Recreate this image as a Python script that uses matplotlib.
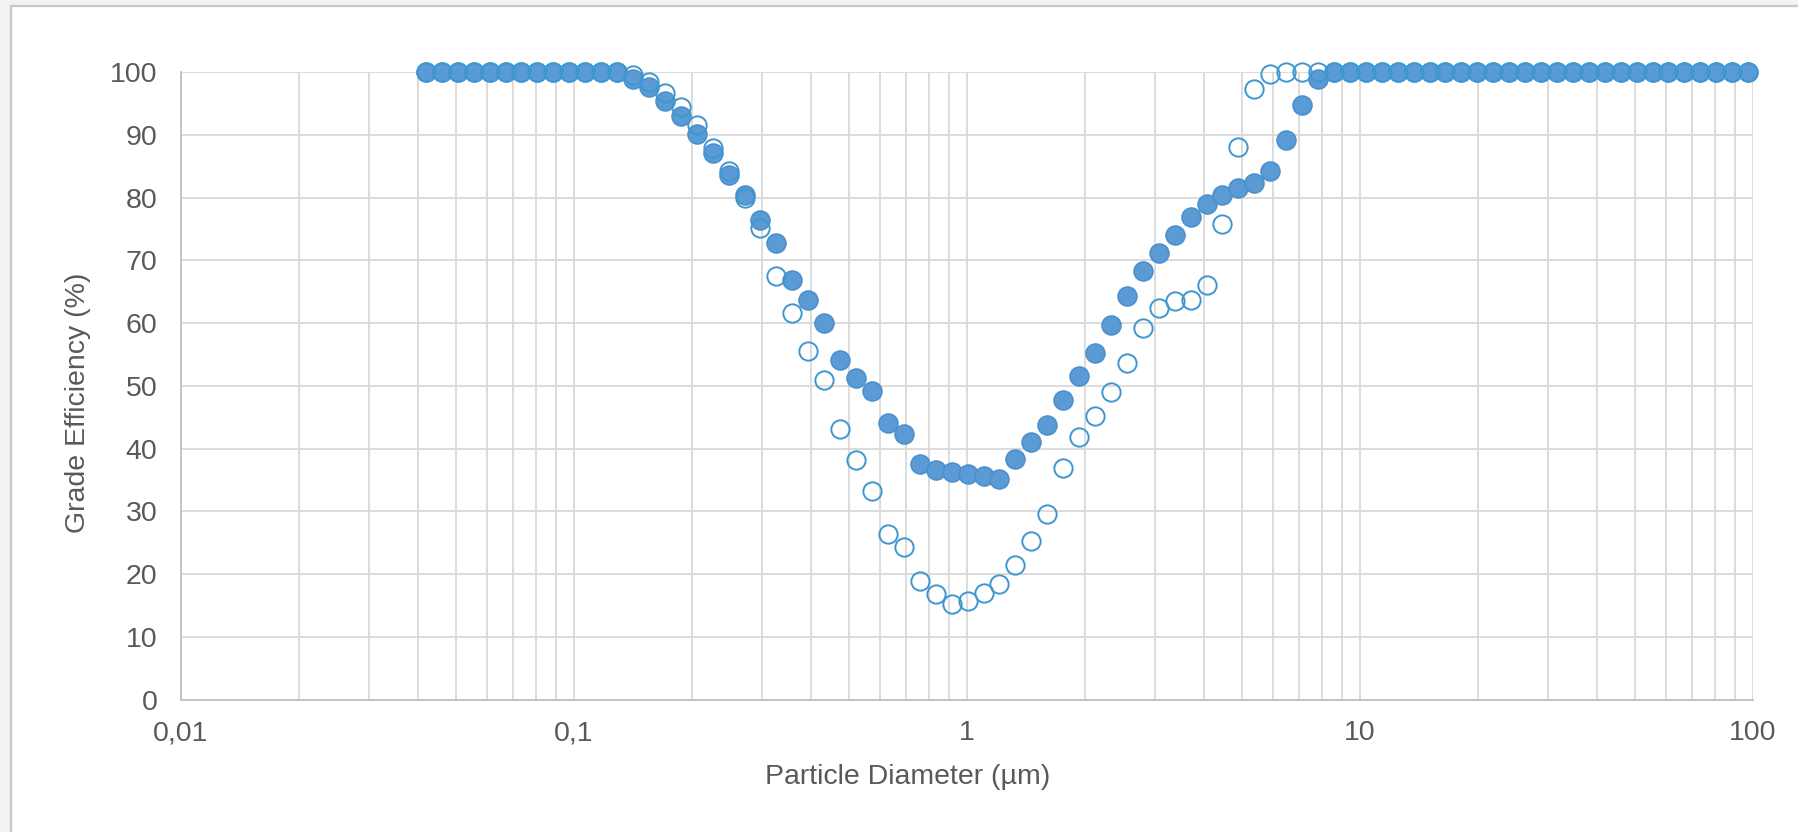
import matplotlib
matplotlib.use("Agg")
import matplotlib.pyplot as plt
from matplotlib.patches import Rectangle
from matplotlib.ticker import FixedLocator, FixedFormatter, NullFormatter

# Particle diameters (µm)
diameter = [0.0420, 0.0461, 0.0506, 0.0556, 0.0610, 0.0670, 0.0735, 0.0807, 0.0886, 0.0973,
            0.1068, 0.1173, 0.1288, 0.1414, 0.1552, 0.1703, 0.1870, 0.2053, 0.2254, 0.2474,
            0.2716, 0.2982, 0.3273, 0.3593, 0.3945, 0.4331, 0.4755, 0.5220, 0.5730, 0.6291,
            0.6906, 0.7582, 0.8325, 0.9141, 1.0035, 1.1018, 1.2096, 1.3280, 1.4580, 1.6005,
            1.7569, 1.9290, 2.1179, 2.3250, 2.5527, 2.8024, 3.0761, 3.3773, 3.7068, 4.0690,
            4.4677, 4.9047, 5.3840, 5.9102, 6.4895, 7.1236, 7.8214, 8.5855, 9.4255, 10.35,
            11.36, 12.47, 13.69, 15.03, 16.50, 18.12, 19.89, 21.83, 23.97, 26.32,
            28.89, 31.72, 34.82, 38.22, 41.97, 46.07, 50.57, 55.52, 60.95, 66.91,
            73.47, 80.65, 88.53, 97.21]

# Grade efficiency (%) - filled markers
eff_filled = [100, 100, 100, 100, 100, 100, 100, 100, 100, 100,
              100, 100, 100, 98.9, 97.6, 95.4, 93.0, 90.1, 87.1, 83.7,
              80.5, 76.5, 72.8, 66.9, 63.7, 60.1, 54.1, 51.3, 49.2, 44.1,
              42.4, 37.6, 36.6, 36.3, 35.9, 35.6, 35.2, 38.3, 41.1, 43.7,
              47.8, 51.5, 55.3, 59.7, 64.3, 68.3, 71.2, 74.1, 77.0, 79.0,
              80.5, 81.6, 82.4, 84.3, 89.2, 94.8, 98.9, 100, 100, 100,
              100, 100, 100, 100, 100, 100, 100, 100, 100, 100,
              100, 100, 100, 100, 100, 100, 100, 100, 100, 100,
              100, 100, 100, 100]

# Grade efficiency (%) - open markers
eff_open = [100, 100, 100, 100, 100, 100, 100, 100, 100, 100,
            100, 100, 100, 99.6, 98.4, 96.7, 94.5, 91.6, 87.9, 84.2,
            79.9, 75.1, 67.5, 61.6, 55.6, 51.0, 43.2, 38.2, 33.3, 26.4,
            24.3, 18.9, 16.8, 15.3, 15.7, 17.0, 18.4, 21.4, 25.3, 29.5,
            36.9, 41.9, 45.2, 49.1, 53.7, 59.3, 62.4, 63.6, 63.7, 66.1,
            75.8, 88.1, 97.4, 99.8, 100, 100, 100, 100, 100, 100,
            100, 100, 100, 100, 100, 100, 100, 100, 100, 100,
            100, 100, 100, 100, 100, 100, 100, 100, 100, 100,
            100, 100, 100, 100]

x_ticks = [0.01, 0.1, 1, 10, 100]
x_tick_labels = ["0,01", "0,1", "1", "10", "100"]
y_ticks = [0, 10, 20, 30, 40, 50, 60, 70, 80, 90, 100]

plt.rcParams['font.family'] = ['Liberation Sans', 'DejaVu Sans']
TXT = '#595959'
GRID = '#D9D9D9'

fig = plt.figure(figsize=(17.99, 8.32), dpi=100)
fig.patch.set_facecolor('#F3F3F3')
fig.patches.append(Rectangle((11 / 1799, -0.02), 1.05, 1 - 5.7 / 832 + 0.02,
                             transform=fig.transFigure, facecolor='white',
                             edgecolor='#C8C8C8', linewidth=1.6, zorder=-10))

ax = fig.add_axes([181 / 1799, 1 - 699.5 / 832, (1753 - 181) / 1799, (699.5 - 72.3) / 832])
ax.set_zorder(1)
ax.set_facecolor('white')
ax.set_xscale('log')
ax.set_xlim(0.01, 100)
ax.set_ylim(0, 100)

minor = [m * 10.0 ** e for e in range(-2, 2) for m in range(2, 10)]
ax.xaxis.set_major_locator(FixedLocator(x_ticks))
ax.xaxis.set_major_formatter(FixedFormatter(x_tick_labels))
ax.xaxis.set_minor_locator(FixedLocator(minor))
ax.xaxis.set_minor_formatter(NullFormatter())
ax.set_yticks(y_ticks)

ax.grid(True, which='both', axis='x', color=GRID, linewidth=1.3, zorder=0)
ax.grid(True, which='major', axis='y', color=GRID, linewidth=1.3, zorder=0)
ax.set_axisbelow(True)

for side in ['top', 'right']:
    ax.spines[side].set_visible(False)
for side in ['left', 'bottom']:
    ax.spines[side].set_color('#BFBFBF')
    ax.spines[side].set_linewidth(1.3)

ax.tick_params(axis='both', which='both', length=0, labelsize=20.5, labelcolor=TXT)
ax.tick_params(axis='y', pad=17)
ax.tick_params(axis='x', pad=15)

ax.plot(diameter, eff_filled, linestyle='none', marker='o', markersize=13.6,
        markerfacecolor='#5B9BD5', markeredgecolor='#4A90CC', markeredgewidth=1.2,
        clip_on=False, zorder=3)
ax.plot(diameter, eff_open, linestyle='none', marker='o', markersize=13.2,
        markerfacecolor='none', markeredgecolor='#3F97D0', markeredgewidth=1.4,
        clip_on=False, zorder=4)

ax.set_xlabel('Particle Diameter (µm)', fontsize=20.5, color=TXT)
ax.set_ylabel('Grade Efficiency (%)', fontsize=20.5, color=TXT, va='center')
ax.xaxis.set_label_coords(0.462, -0.1236)
ax.yaxis.set_label_coords(-0.0655, 0.473)
ax.xaxis.label.set_verticalalignment('center')

fig.savefig('out.png', dpi=100, facecolor=fig.get_facecolor())
